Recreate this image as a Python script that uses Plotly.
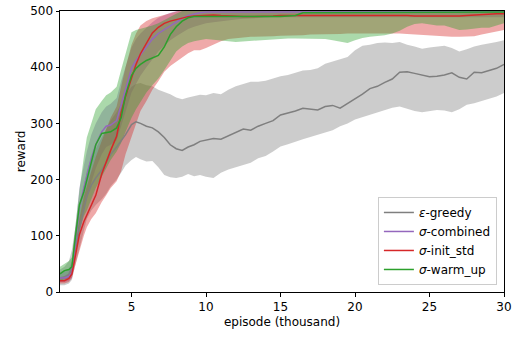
import plotly.graph_objects as go

x = [0.2, 0.5, 0.8, 1.0, 1.2, 1.5, 1.8, 2.0, 2.3, 2.6, 3.0, 3.3, 3.6, 4.0, 4.3, 4.6, 5.0, 5.3, 5.6, 6.0,
     6.4, 6.8, 7.2, 7.6, 8.0, 8.4, 8.8, 9.2, 9.6, 10.0, 10.5, 11, 11.5, 12, 12.5, 13, 13.5, 14, 14.5, 15,
     15.5, 16, 16.5, 17, 17.5, 18, 18.5, 19, 19.5, 20, 20.5, 21, 21.5, 22, 22.5, 23, 23.5, 24, 24.5, 25,
     25.5, 26, 26.5, 27, 27.5, 28, 28.5, 29, 29.5, 30]

greedy_mean = [25, 27, 32, 45, 75, 110, 150, 170, 190, 203,
               217, 230, 245, 258, 268, 280, 298, 303, 300, 295,
               292, 285, 275, 262, 255, 252, 258, 262, 268, 270,
               273, 272, 278, 283, 290, 288, 295, 300, 305, 315,
               318, 322, 327, 326, 324, 330, 332, 327, 335, 343,
               352, 362, 366, 373, 379, 391, 392, 389, 386, 383,
               384, 386, 390, 382, 379, 391, 390, 394, 398, 405]
greedy_upper = [40, 45, 55, 75, 110, 150, 195, 215, 240, 255,
                275, 290, 305, 320, 335, 350, 365, 370, 372, 368,
                366, 360, 356, 352, 346, 343, 346, 349, 351, 350,
                354, 352, 360, 366, 370, 374, 374, 376, 380, 384,
                386, 390, 394, 395, 398, 406, 410, 414, 418, 430,
                438, 440, 443, 444, 443, 445, 440, 437, 433, 435,
                437, 438, 434, 428, 432, 437, 440, 442, 445, 448]
greedy_lower = [12, 12, 15, 22, 45, 75, 110, 130, 145, 155,
                165, 175, 188, 200, 212, 225, 235, 240, 236, 232,
                233, 222, 208, 204, 203, 205, 210, 206, 208, 205,
                203, 212, 218, 222, 226, 230, 238, 242, 250, 259,
                263, 268, 272, 276, 280, 284, 288, 295, 300, 307,
                311, 315, 319, 324, 328, 330, 326, 322, 320, 322,
                324, 323, 320, 325, 333, 336, 340, 343, 348, 354]

combined_mean = [25, 25, 28, 35, 80, 150, 185, 205, 238, 262,
                 285, 295, 297, 305, 335, 360, 398, 412, 422, 435,
                 450, 460, 467, 474, 480, 487, 492, 495, 497, 498,
                 498, 498, 498, 499, 499, 499, 499, 499, 499, 499,
                 499, 499, 499, 499, 499, 499, 499, 499, 499, 499,
                 499, 499, 499, 499, 499, 499, 499, 499, 499, 499,
                 499, 499, 499, 499, 499, 499, 499, 499, 499, 499]
combined_upper = [35, 38, 42, 55, 110, 185, 225, 250, 280, 300,
                  320, 330, 335, 345, 375, 400, 435, 450, 460, 470,
                  480, 488, 493, 497, 500, 503, 505, 505, 505, 505] + [505] * 40
combined_lower = [18, 18, 20, 25, 55, 115, 150, 165, 195, 220,
                  245, 258, 262, 270, 295, 320, 355, 370, 385, 400,
                  415, 428, 438, 448, 455, 462, 468, 472, 475, 478,
                  480, 482, 484, 485, 486, 487, 488, 488, 489, 489] + [489] * 30

init_mean = [20, 20, 24, 32, 60, 102, 125, 137, 155, 172,
             210, 232, 252, 277, 318, 348, 380, 405, 424, 443,
             461, 471, 478, 482, 485, 487, 490, 491, 492, 493,
             493, 492, 491, 491, 490, 490, 490, 491, 491, 492,
             492, 493, 493, 493, 493, 493, 492, 493, 493, 493,
             493, 492, 492, 492, 492, 492, 492, 491, 491, 491,
             491, 490, 490, 491, 492, 493, 493, 494, 495, 495]
init_upper = [25, 26, 32, 45, 80, 130, 170, 190, 215, 240,
              270, 290, 310, 330, 365, 400, 440, 460, 474, 482,
              487, 490, 494, 497, 500, 503, 505, 505, 505, 505] + [505] * 40
init_lower = [15, 15, 18, 25, 45, 75, 100, 115, 130, 140,
              160, 172, 185, 197, 215, 245, 275, 300, 322, 340,
              360, 375, 392, 402, 410, 418, 425, 430, 430, 434,
              440, 446, 450, 452, 453, 454, 454, 455, 455, 456,
              456, 457, 457, 458, 458, 458, 459, 459, 460, 460,
              460, 461, 461, 461, 461, 460, 459, 458, 457, 456,
              455, 455, 454, 454, 454, 455, 458, 461, 464, 466]

warm_mean = [32, 38, 40, 45, 90, 155, 178, 200, 232, 262,
             282, 283, 285, 292, 310, 350, 385, 398, 405, 412,
             416, 421, 436, 458, 472, 482, 488, 490, 490, 490,
             490, 489, 489, 490, 490, 490, 490, 490, 490, 490,
             491, 492, 497, 497, 498, 498, 498, 498, 498, 498] + [498] * 20
warm_upper = [45, 50, 55, 62, 110, 180, 240, 275, 300, 325,
              340, 350, 355, 365, 395, 425, 462, 466, 468, 470,
              474, 478, 484, 490, 495, 500, 503, 505, 505, 505] + [505] * 40
warm_lower = [20, 22, 25, 30, 60, 110, 135, 145, 165, 185,
              205, 220, 235, 250, 265, 285, 310, 325, 338, 355,
              368, 380, 395, 412, 428, 437, 443, 446, 448, 450,
              449, 447, 446, 445, 446, 447, 448, 449, 450, 451,
              451, 451, 451, 451, 450, 450, 448, 446, 443, 448,
              452, 454, 455, 457, 460, 465, 472, 477, 478, 476,
              474, 474, 470, 466, 467, 469, 470, 470, 474, 478]

names = ["<i>ε</i>-greedy", "<i>σ</i>-combined", "<i>σ</i>-init_std", "<i>σ</i>-warm_up"]
means = [greedy_mean, combined_mean, init_mean, warm_mean]
uppers = [greedy_upper, combined_upper, init_upper, warm_upper]
lowers = [greedy_lower, combined_lower, init_lower, warm_lower]
colors = ["#7f7f7f", "#9467bd", "#d62728", "#2ca02c"]
fills = ["rgba(127,127,127,0.4)", "rgba(148,103,189,0.4)", "rgba(214,39,40,0.4)", "rgba(44,160,44,0.4)"]

fig = go.Figure()
for lo, up, fc in zip(lowers, uppers, fills):
    fig.add_trace(go.Scatter(x=x, y=lo, mode="lines", line=dict(width=0), showlegend=False, hoverinfo="skip"))
    fig.add_trace(go.Scatter(x=x, y=up, mode="lines", line=dict(width=0), fill="tonexty",
                             fillcolor=fc, showlegend=False, hoverinfo="skip"))
for m, c, n in zip(means, colors, names):
    fig.add_trace(go.Scatter(x=x, y=m, mode="lines", line=dict(color=c, width=1.5), name=n))

font = dict(family="DejaVu Sans", size=12, color="black")
fig.update_layout(
    width=518, height=337,
    margin=dict(l=60, r=14, t=11, b=45),
    paper_bgcolor="white", plot_bgcolor="white",
    font=font,
    showlegend=True,
    legend=dict(x=0.984, y=0.025, xanchor="right", yanchor="bottom", traceorder="normal",
                bgcolor="rgba(255,255,255,0.8)", bordercolor="#cccccc", borderwidth=1,
                font=dict(family="DejaVu Sans", size=12, color="black"), tracegroupgap=0),
)
fig.update_xaxes(range=[0.2, 30], tickvals=[5, 10, 15, 20, 25, 30], showline=True, mirror=True,
                 linecolor="black", linewidth=1, ticks="outside", ticklen=3.5, tickcolor="black",
                 showgrid=False, zeroline=False, automargin=False,
                 title=dict(text="episode (thousand)", font=font, standoff=4))
fig.update_yaxes(range=[0, 500], tickvals=[0, 100, 200, 300, 400, 500], showline=True, mirror=True,
                 linecolor="black", linewidth=1, ticks="outside", ticklen=3.5, tickcolor="black",
                 showgrid=False, zeroline=False, automargin=False,
                 title=dict(text="reward", font=font, standoff=1))
fig.write_html("out.html", config={"displayModeBar": False},
               post_script="document.body.style.margin='0px';")
